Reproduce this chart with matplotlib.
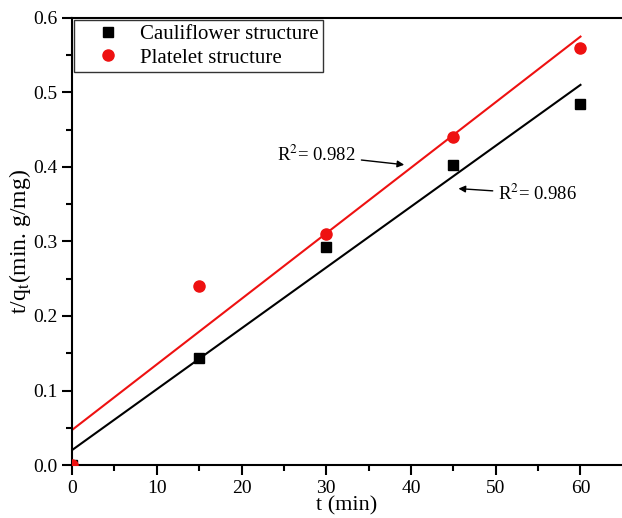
import matplotlib
matplotlib.use("Agg")
import matplotlib.pyplot as plt
from matplotlib.ticker import MultipleLocator
import numpy as np

plt.rcParams['font.family'] = ['Liberation Serif', 'DejaVu Serif']
plt.rcParams['mathtext.fontset'] = 'stix'

t = [0, 15, 30, 45, 60]
cauliflower = [0.0, 0.143, 0.293, 0.402, 0.485]
platelet = [0.0, 0.240, 0.310, 0.440, 0.560]

fit_range = [0, 60]
cauli_fit = (0.00817, 0.020)   # slope, intercept
plate_fit = (0.0088, 0.047)

fig = plt.figure(figsize=(6.22, 5.18), dpi=100)
ax = fig.add_axes([0.1158, 0.1023, 0.8842, 0.863])

xs = np.array(fit_range, dtype=float)
ax.plot(xs, cauli_fit[0] * xs + cauli_fit[1], color='black', lw=1.5, zorder=2)
ax.plot(xs, plate_fit[0] * xs + plate_fit[1], color='#ee1111', lw=1.5, zorder=2)

ax.plot(t, cauliflower, ls='none', marker='s', ms=7.5, color='black',
        label='Cauliflower structure', zorder=3, clip_on=True)
ax.plot(t, platelet, ls='none', marker='o', ms=8, color='#ee1111',
        label='Platelet structure', zorder=4, clip_on=True)

ax.annotate(r'R$^2$= 0.982', xy=(39.2, 0.403), xytext=(24.2, 0.416),
            fontsize=13.5, va='center', ha='left',
            arrowprops=dict(arrowstyle='-|>', color='black', lw=1,
                            mutation_scale=10, shrinkA=2, shrinkB=0))
ax.annotate(r'R$^2$= 0.986', xy=(45.6, 0.371), xytext=(50.3, 0.364),
            fontsize=13.5, va='center', ha='left',
            arrowprops=dict(arrowstyle='-|>', color='black', lw=1,
                            mutation_scale=10, shrinkA=2, shrinkB=0))

ax.set_xlim(0, 64.9)
ax.set_ylim(0, 0.6)
ax.xaxis.set_major_locator(MultipleLocator(10))
ax.xaxis.set_minor_locator(MultipleLocator(5))
ax.yaxis.set_major_locator(MultipleLocator(0.1))
ax.yaxis.set_minor_locator(MultipleLocator(0.05))
ax.yaxis.set_major_formatter(plt.FormatStrFormatter('%.1f'))
ax.tick_params(which='major', direction='out', length=7, width=1.5, labelsize=14)
ax.tick_params(which='minor', direction='out', length=4, width=1.5)
for s in ['left', 'bottom', 'top']:
    ax.spines[s].set_linewidth(1.5)
ax.spines['right'].set_visible(False)

ax.set_xlabel('t (min)', fontsize=16, labelpad=0)
ax.set_ylabel(r't/q$_{\rm t}$(min. g/mg)', fontsize=17, labelpad=0)

leg = ax.legend(loc='upper left', fontsize=15, frameon=True, fancybox=False,
                edgecolor='black', borderaxespad=0.1, handlelength=2.9,
                handletextpad=0.05, borderpad=0.2, labelspacing=0.2)
leg.get_frame().set_linewidth(1.0)

fig.savefig('out.png', dpi=100)
